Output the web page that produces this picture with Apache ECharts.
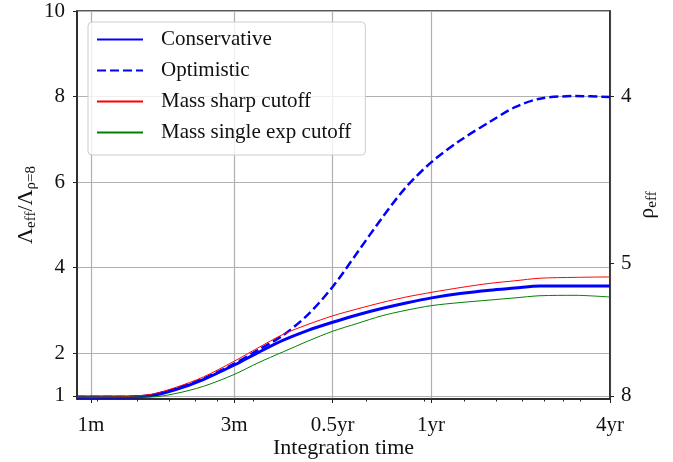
<!DOCTYPE html>
<html>
<head>
<meta charset="utf-8">
<script src="https://cdn.jsdelivr.net/npm/echarts@6/dist/echarts.min.js"></script>
<style>
  html, body { margin: 0; padding: 0; background: #fff; }
  #main { width: 673px; height: 462px; }
</style>
</head>
<body>
<div id="main"></div>
<script>
// integration time in days (log axis)
var days = [30.2, 41, 50.5, 60.2, 73.5, 91.4, 108, 129.1, 153.6, 182.8, 216.9, 258.1, 306.3, 367, 448, 553, 659.6, 786.8, 1007, 1288];

var conservative = [0.97, 0.97, 1.0, 1.14, 1.38, 1.72, 2.01, 2.30, 2.53, 2.72, 2.89, 3.04, 3.17, 3.29, 3.39, 3.47, 3.52, 3.57, 3.57, 3.57];
var optimistic   = [0.97, 0.97, 1.01, 1.16, 1.40, 1.75, 2.07, 2.42, 2.90, 3.55, 4.34, 5.15, 5.88, 6.47, 6.97, 7.41, 7.75, 7.95, 8.01, 7.99];
var massSharp    = [0.97, 0.98, 1.03, 1.19, 1.44, 1.81, 2.12, 2.44, 2.67, 2.87, 3.03, 3.18, 3.31, 3.42, 3.53, 3.63, 3.69, 3.75, 3.77, 3.78];
var massSingle   = [0.97, 0.97, 0.97, 1.05, 1.22, 1.50, 1.77, 2.03, 2.28, 2.51, 2.69, 2.87, 3.0, 3.11, 3.18, 3.24, 3.29, 3.34, 3.35, 3.31];

// axis ticks
var xMajor = [33.3, 91.3, 182.6, 365.25, 1288];
var xMajorLabels = ['1m', '3m', '0.5yr', '1yr', '4yr'];
var xMinor = [34.72, 46.30, 57.87, 69.44, 81.02, 104.17, 231.5, 347.2, 463.0, 578.7, 694.4, 810.2, 925.9, 1041.7];
var yTicks = [1, 2, 4, 6, 8, 10];
var rhoTicks = [4, 5, 8];

var font = 'Liberation Serif';

function pairs(ys) {
  return days.map(function (d, i) { return [d, ys[i]]; });
}
function nearestLabel(v) {
  var best = 0;
  for (var i = 1; i < xMajor.length; i++) {
    if (Math.abs(Math.log(xMajor[i] / v)) < Math.abs(Math.log(xMajor[best] / v))) best = i;
  }
  return xMajorLabels[best];
}

var chart = echarts.init(document.getElementById('main'));
var option = {
  animation: false,
  grid: {
    left: 77, right: 63, top: 11, bottom: 63,
    outerBoundsMode: 'none',
    show: true, borderColor: '#222', borderWidth: 1.5
  },
  legend: {
    orient: 'vertical',
    left: 88, top: 22,
    padding: [7, 14, 12, 8],
    itemGap: 10,
    itemWidth: 46, itemHeight: 14,
    backgroundColor: 'rgba(255,255,255,0.8)',
    borderColor: '#cccccc', borderWidth: 1, borderRadius: 4,
    itemStyle: { opacity: 0 },
    textStyle: { fontFamily: font, fontSize: 21, color: '#111', padding: [0, 0, 0, 13] },
    data: ['Conservative', 'Optimistic', 'Mass sharp cutoff', 'Mass single exp cutoff']
  },
  xAxis: [
    {
      type: 'log', logBase: 10,
      min: 30.2, max: 1288,
      name: 'Integration time',
      nameLocation: 'middle', nameGap: 38, nameMoveOverlap: false,
      nameTextStyle: { fontFamily: font, fontSize: 22, color: '#111' },
      axisLine: { lineStyle: { color: '#222', width: 1.5 } },
      axisTick: { customValues: xMajor, length: 4, lineStyle: { color: '#222' } },
      axisLabel: {
        customValues: xMajor, margin: 16,
        fontFamily: font, fontSize: 21, color: '#111',
        formatter: function (v) { return nearestLabel(v); }
      },
      splitLine: { show: true, lineStyle: { color: '#b0b0b0', width: 1.2 } }
    },
    {
      type: 'log', logBase: 10,
      min: 30.2, max: 1288,
      position: 'bottom',
      axisLine: { show: false },
      axisTick: { customValues: xMinor, length: 2.5, lineStyle: { color: '#222' } },
      axisLabel: { show: false },
      splitLine: { show: false }
    }
  ],
  yAxis: [
    {
      type: 'value',
      min: 0.925, max: 10,
      position: 'left',
      name: '{m|Λ}{s|eff}{m|/Λ}{s|ρ=8}',
      nameLocation: 'middle', nameGap: 38, nameRotate: 90, nameMoveOverlap: false,
      nameTextStyle: {
        rich: {
          m: { fontFamily: font, fontSize: 22, color: '#111', lineHeight: 26 },
          s: { fontFamily: font, fontSize: 15, color: '#111', lineHeight: 15, verticalAlign: 'bottom' }
        }
      },
      axisLine: { show: true, lineStyle: { color: '#222', width: 1.5 } },
      axisTick: { show: true, customValues: yTicks, length: 4, lineStyle: { color: '#222' } },
      axisLabel: { customValues: yTicks, margin: 12, fontFamily: font, fontSize: 21, color: '#111' },
      splitLine: { show: true, lineStyle: { color: '#b0b0b0', width: 1.2 } }
    },
    {
      type: 'value',
      min: 0.925, max: 10,
      position: 'right',
      name: '{m|ρ}{s|eff}',
      nameLocation: 'middle', nameGap: 24, nameRotate: 90, nameMoveOverlap: false,
      nameTextStyle: {
        rich: {
          m: { fontFamily: font, fontSize: 22, color: '#111', lineHeight: 26 },
          s: { fontFamily: font, fontSize: 15, color: '#111', lineHeight: 15, verticalAlign: 'bottom' }
        }
      },
      axisLine: { show: true, lineStyle: { color: '#222', width: 1.5 } },
      axisTick: {
        show: true, length: 4, lineStyle: { color: '#222' },
        customValues: rhoTicks.map(function (r) { return Math.pow(8 / r, 3); })
      },
      axisLabel: {
        customValues: rhoTicks.map(function (r) { return Math.pow(8 / r, 3); }),
        margin: 11, fontFamily: font, fontSize: 21, color: '#111',
        formatter: function (v) { return String(Math.round(8 / Math.cbrt(v))); }
      },
      splitLine: { show: false }
    }
  ],
  series: [
    {
      name: 'Conservative', type: 'line', data: pairs(conservative),
      symbol: 'none', smooth: 0.3,
      lineStyle: { color: '#0000ff', width: 3 }, itemStyle: { color: '#0000ff' }
    },
    {
      name: 'Optimistic', type: 'line', data: pairs(optimistic),
      symbol: 'none', smooth: 0.3,
      lineStyle: { color: '#0000ff', width: 2.5, type: [9, 4] }, itemStyle: { color: '#0000ff' }
    },
    {
      name: 'Mass sharp cutoff', type: 'line', data: pairs(massSharp),
      symbol: 'none', smooth: 0.3,
      lineStyle: { color: '#ff0000', width: 1 }, itemStyle: { color: '#ff0000' }
    },
    {
      name: 'Mass single exp cutoff', type: 'line', data: pairs(massSingle),
      symbol: 'none', smooth: 0.3,
      lineStyle: { color: '#008000', width: 1 }, itemStyle: { color: '#008000' }
    }
  ]
};
chart.setOption(option);
</script>
</body>
</html>
